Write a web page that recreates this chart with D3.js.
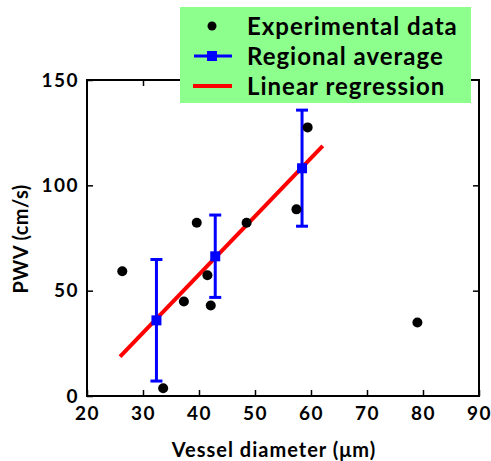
<!DOCTYPE html>
<html>
<head>
<meta charset="utf-8">
<script src="https://cdn.jsdelivr.net/npm/d3@7"></script>
<style>
  body { margin: 0; background: #fff; }
  text { font-family: Lato, sans-serif; font-weight: bold; }
</style>
</head>
<body>
<svg width="491" height="461"></svg>
<script>
const svg = d3.select('svg');

// experimental points
const expX = [26.3, 33.6, 37.3, 39.6, 41.5, 42.1, 48.5, 57.4, 59.4, 79.0];
const expY = [59.2, 3.7, 44.9, 82.2, 57.3, 43.0, 82.2, 88.6, 127.5, 34.9];

// regional averages with error bars
const avgX = [32.4, 42.9, 58.4];
const avgY = [35.9, 66.3, 108.1];
const avgLo = [7.1, 46.8, 80.6];
const avgHi = [64.8, 85.9, 135.7];

// regression line end points
const fitX = [25.9, 62.1];
const fitY = [18.7, 118.7];

const xTicks = [20, 30, 40, 50, 60, 70, 80, 90];
const yTicks = [0, 50, 100, 150];
const legendLabels = ['Experimental data', 'Regional average', 'Linear regression'];

const margin = {top: 80, right: 12, bottom: 65, left: 87};
const width = 491, height = 461;
const innerWidth = width - margin.left - margin.right;
const innerHeight = height - margin.top - margin.bottom;

const xScale = d3.scaleLinear().domain([20, 90]).range([0, innerWidth]);
const yScale = d3.scaleLinear().domain([0, 150]).range([innerHeight, 0]);

const g = svg.append('g')
  .attr('transform', `translate(${margin.left}, ${margin.top})`);

const styleAxis = sel => {
  sel.attr('font-family', 'Lato').attr('font-size', 19);
  sel.select('.domain').remove();
  sel.selectAll('.tick line').attr('stroke', '#000').attr('stroke-width', 1.5);
  sel.selectAll('.tick text').attr('fill', '#000').style('letter-spacing', '1.5px');
};

g.append('g')
  .attr('transform', `translate(0, ${innerHeight})`)
  .call(d3.axisBottom(xScale).tickValues(xTicks).tickSize(-6).tickPadding(11))
  .call(styleAxis);

// mirrored ticks on top and right, no labels
const topG = g.append('g')
  .call(d3.axisTop(xScale).tickValues(xTicks.slice(1, -1)).tickSize(-6))
  .call(styleAxis);
topG.selectAll('.tick text').remove();

g.append('g')
  .call(d3.axisLeft(yScale).tickValues(yTicks).tickSize(-6).tickPadding(8))
  .call(styleAxis);

const rightG = g.append('g')
  .attr('transform', `translate(${innerWidth}, 0)`)
  .call(d3.axisRight(yScale).tickValues(yTicks.slice(1, -1)).tickSize(-6))
  .call(styleAxis);
rightG.selectAll('.tick text').remove();

g.append('rect')
  .attr('width', innerWidth).attr('height', innerHeight)
  .attr('fill', 'none').attr('stroke', '#000').attr('stroke-width', 2);

g.append('text')
  .attr('x', innerWidth / 2 - 9).attr('y', innerHeight + 61)
  .attr('text-anchor', 'middle').style('font-size', '20px').style('letter-spacing', '1px')
  .text('Vessel diameter (\u03bcm)');

g.append('text')
  .attr('transform', `translate(-59, ${innerHeight / 2 + 1}) rotate(-90)`)
  .attr('text-anchor', 'middle').style('font-size', '20px').style('letter-spacing', '0.4px')
  .text('PWV (cm/s)');

// regression
g.append('line')
  .attr('x1', xScale(fitX[0])).attr('y1', yScale(fitY[0]))
  .attr('x2', xScale(fitX[1])).attr('y2', yScale(fitY[1]))
  .attr('stroke', '#ff0000').attr('stroke-width', 4);

// error bars
const avg = avgX.map((x, i) => ({x, y: avgY[i], lo: avgLo[i], hi: avgHi[i]}));
const eb = g.append('g').attr('stroke', '#0000ff').attr('stroke-width', 3);
eb.selectAll('.v').data(avg).join('line')
  .attr('x1', d => xScale(d.x)).attr('x2', d => xScale(d.x))
  .attr('y1', d => yScale(d.lo)).attr('y2', d => yScale(d.hi));
eb.selectAll('.c1').data(avg).join('line')
  .attr('x1', d => xScale(d.x) - 6).attr('x2', d => xScale(d.x) + 6)
  .attr('y1', d => yScale(d.lo)).attr('y2', d => yScale(d.lo));
eb.selectAll('.c2').data(avg).join('line')
  .attr('x1', d => xScale(d.x) - 6).attr('x2', d => xScale(d.x) + 6)
  .attr('y1', d => yScale(d.hi)).attr('y2', d => yScale(d.hi));
g.selectAll('.sq').data(avg).join('rect')
  .attr('x', d => xScale(d.x) - 5).attr('y', d => yScale(d.y) - 5)
  .attr('width', 10).attr('height', 10).attr('fill', '#0000ff');

// experimental points
g.selectAll('.pt').data(expX.map((x, i) => ({x, y: expY[i]}))).join('circle')
  .attr('cx', d => xScale(d.x)).attr('cy', d => yScale(d.y))
  .attr('r', 5).attr('fill', '#000');

// legend
const lg = svg.append('g').attr('transform', 'translate(180, 7)');
lg.append('rect').attr('width', 291).attr('height', 96).attr('fill', '#8cff8c');
legendLabels.forEach((t, i) => {
  const cy = 19 + i * 30;
  lg.append('text').attr('x', 67).attr('y', cy + 9)
    .style('font-size', '24px').style('letter-spacing', '1px').text(t);
  if (i === 0) {
    lg.append('circle').attr('cx', 32).attr('cy', cy).attr('r', 4.5).attr('fill', '#000');
  } else if (i === 1) {
    lg.append('line').attr('x1', 14).attr('x2', 52).attr('y1', cy).attr('y2', cy)
      .attr('stroke', '#0000ff').attr('stroke-width', 3);
    lg.append('rect').attr('x', 27).attr('y', cy - 5).attr('width', 10).attr('height', 10).attr('fill', '#0000ff');
  } else {
    lg.append('line').attr('x1', 13).attr('x2', 52).attr('y1', cy).attr('y2', cy)
      .attr('stroke', '#ff0000').attr('stroke-width', 4);
  }
});
</script>
</body>
</html>
